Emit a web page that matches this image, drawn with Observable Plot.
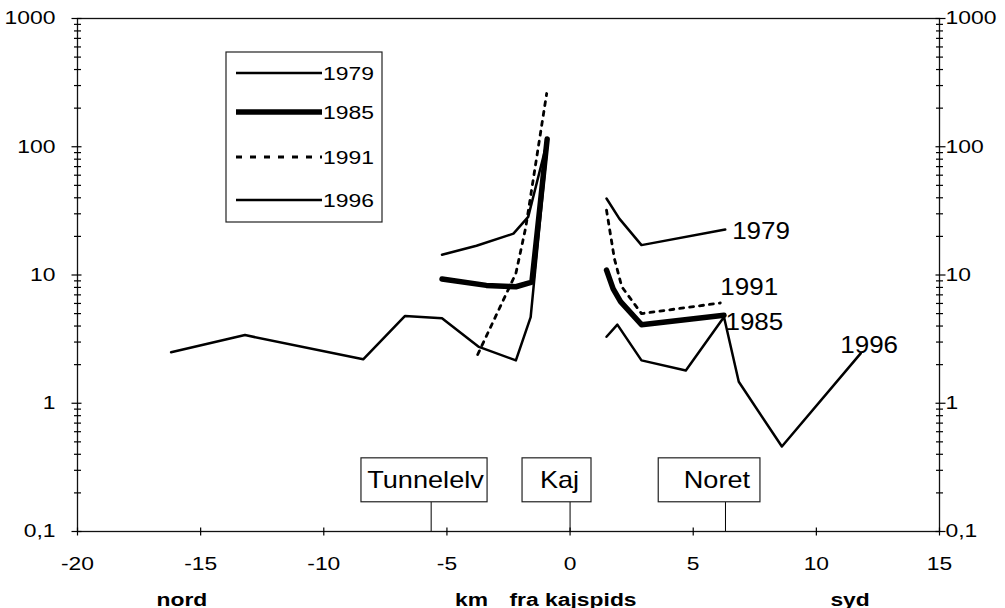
<!DOCTYPE html>
<html><head><meta charset="utf-8">
<script src="https://cdn.jsdelivr.net/npm/d3@7"></script>
<script src="https://cdn.jsdelivr.net/npm/@observablehq/plot@0.6"></script>
<style>body{margin:0;background:#fff} svg{display:block}</style>
</head><body><div id="chart"></div>
<script>
// ---- data (km from kajspids, concentration; null = gap at the quay) ----
const years = ["1979", "1985", "1991", "1996"];
const km1979  = [-5.2, -3.8, -2.3, -1.7, -0.93, null, 1.48, 2.0, 2.9, 6.3];
const val1979 = [14.4, 16.9, 21.0, 28.4, 110, null, 39.5, 27.5, 17.1, 22.6];
const km1985  = [-5.2, -3.4, -2.2, -1.55, -0.93, null, 1.48, 1.75, 2.05, 2.9, 6.25];
const val1985 = [9.3, 8.3, 8.1, 8.8, 115, null, 10.9, 7.8, 6.2, 4.1, 4.85];
const km1991  = [-3.75, -2.2, -1.8, -0.95, null, 1.48, 1.8, 2.1, 2.9, 6.1];
const val1991 = [2.4, 10.3, 23.5, 260, null, 32, 13.4, 8.1, 5.0, 6.05];
const km1996  = [-16.2, -13.2, -8.4, -6.7, -5.2, -3.7, -2.2, -1.6, -0.93, null, 1.48, 1.92, 2.9, 4.7, 6.25, 6.85, 8.6, 11.8];
const val1996 = [2.5, 3.4, 2.2, 4.8, 4.6, 2.75, 2.16, 4.7, 100, null, 3.3, 4.1, 2.16, 1.8, 4.7, 1.47, 0.46, 2.45];

const places = ["Tunnelelv", "Kaj", "Noret"];
const placeKm = [-5.64, 0, 6.31];

const xTicks = [-20, -15, -10, -5, 0, 5, 10, 15];
const xTickLabels = ["-20", "-15", "-10", "-5", "0", "5", "10", "15"];
const yTicks = [0.1, 1, 10, 100, 1000];
const yTickLabels = ["0,1", "1", "10", "100", "1000"];

// ---- layout ----
const endLabelKm  = [6.58, 6.31, 6.1, 10.97];
const endLabelVal = [21.7, 4.24, 7.95, 2.83];
const boxKm = [[-8.47, -3.35], [-1.93, 0.87], [3.6, 7.73]];
const boxTextKm = [-5.87, -0.43, 5.96];
const boxVal = [0.169, 0.372];
const axisWordsMid = ["nord", "km"], axisWordsMidKm = [-15.76, -4.0];
const axisWordsStart = ["fra kajspids", "syd"], axisWordsStartKm = [-2.46, 10.57];

const kms = {"1979": km1979, "1985": km1985, "1991": km1991, "1996": km1996};
const vals = {"1979": val1979, "1985": val1985, "1991": val1991, "1996": val1996};
const rows = y => kms[y].map((k, i) => ({year: y, km: k, val: vals[y][i]}));
const styles = {
  "1979": {strokeWidth: 2.5},
  "1985": {strokeWidth: 5.5},
  "1991": {strokeWidth: 2.8, strokeDasharray: "4,6"},
  "1996": {strokeWidth: 2.5}
};

const minorTicks = yTicks.slice(0, -1).flatMap(d => [2,3,4,5,6,7,8,9].map(k => k * d));
const hline = {draw(ctx, size) { const r = Math.sqrt(size / Math.PI); ctx.moveTo(-r, 0); ctx.lineTo(r, 0); }};
const vline = {draw(ctx, size) { const r = Math.sqrt(size / Math.PI); ctx.moveTo(0, -r); ctx.lineTo(0, r); }};

const tickMarks = side => [
  Plot.dot(minorTicks, {y: d => d, frameAnchor: side, symbol: hline, r: 3.5, stroke: "black", fill: "none", strokeWidth: 1.2}),
  Plot.dot(yTicks, {y: d => d, frameAnchor: side, symbol: hline, r: 5, dx: side === "left" ? -1 : 1, stroke: "black", fill: "none", strokeWidth: 1.2})
];

const plot = Plot.plot({
  width: 1005, height: 608,
  marginTop: 18, marginBottom: 77, marginLeft: 77, marginRight: 66,
  style: {fontFamily: "'Liberation Sans', Arial, sans-serif", background: "white", color: "black"},
  x: {domain: [-20, 15], axis: null},
  y: {type: "log", domain: [0.1, 1000], axis: null},
  marks: [
    Plot.frame({stroke: "#111", strokeWidth: 1.3}),
    ...tickMarks("left"), ...tickMarks("right"),
    Plot.dot(xTicks, {x: d => d, frameAnchor: "bottom", symbol: vline, r: 4, stroke: "black", fill: "none", strokeWidth: 1.2}),
    Plot.text(yTicks, {y: d => d, text: (d, i) => yTickLabels[i], frameAnchor: "left", textAnchor: "end", dx: -22, fontSize: 18}),
    Plot.text(yTicks, {y: d => d, text: (d, i) => yTickLabels[i], frameAnchor: "right", textAnchor: "start", dx: 6, fontSize: 18}),
    Plot.text(xTicks, {x: d => d, text: (d, i) => xTickLabels[i], frameAnchor: "bottom", dy: 38, fontSize: 18}),
    Plot.text(axisWordsMid, {x: (d, i) => axisWordsMidKm[i], text: d => d, frameAnchor: "bottom", dy: 74, fontSize: 18, fontWeight: "bold"}),
    Plot.text(axisWordsStart, {x: (d, i) => axisWordsStartKm[i], text: d => d, frameAnchor: "bottom", dy: 74, fontSize: 18, fontWeight: "bold", textAnchor: "start"}),
    // place annotations
    Plot.ruleX(places, {x: (d, i) => placeKm[i], y1: boxVal[0], y2: 0.1, stroke: "black", strokeWidth: 1}),
    Plot.rect(places, {x1: (d, i) => boxKm[i][0], x2: (d, i) => boxKm[i][1], y1: boxVal[0], y2: boxVal[1], fill: "white", stroke: "#222", strokeWidth: 1.2}),
    Plot.text(places, {x: (d, i) => boxTextKm[i], y: Math.sqrt(boxVal[0] * boxVal[1]), text: d => d, fontSize: 24}),
    // series
    ...years.map(y => Plot.line(rows(y), {x: "km", y: "val", stroke: "black", strokeLinejoin: "round", strokeLinecap: "round", ...styles[y]})),
    Plot.text(years, {x: (d, i) => endLabelKm[i], y: (d, i) => endLabelVal[i], text: d => d, textAnchor: "start", fontSize: 23})
  ]
});

document.getElementById("chart").append(plot);

// legend (pixel layout inside the frame)
const lg = d3.select(plot).append("g")
  .attr("font-family", "'Liberation Sans', Arial, sans-serif").attr("font-size", 18).attr("text-anchor", "start");
lg.append("rect").attr("x", 226).attr("y", 52).attr("width", 156).attr("height", 170)
  .attr("fill", "white").attr("stroke", "#222").attr("stroke-width", 1.2);
const rowsY = [73, 112, 157, 200];
years.forEach((y, i) => {
  const s = styles[y];
  lg.append("line").attr("x1", 236).attr("x2", 322).attr("y1", rowsY[i]).attr("y2", rowsY[i])
    .attr("stroke", "black").attr("stroke-width", s.strokeWidth)
    .attr("stroke-dasharray", y === "1991" ? "6,8" : null);
  lg.append("text").attr("x", 323).attr("y", rowsY[i] + 6.5).attr("text-anchor", "start").text(y);
});

// horizontally widen glyphs like the reference
plot.querySelectorAll("text").forEach(t => {
  const fs = parseFloat(getComputedStyle(t).fontSize);
  const k = fs >= 21 ? 1.13 : 1.27;
  const len = t.getComputedTextLength();
  if (len > 0) {
    t.setAttribute("textLength", (len * k).toFixed(1));
    t.setAttribute("lengthAdjust", "spacingAndGlyphs");
  }
});
</script>
</body></html>
